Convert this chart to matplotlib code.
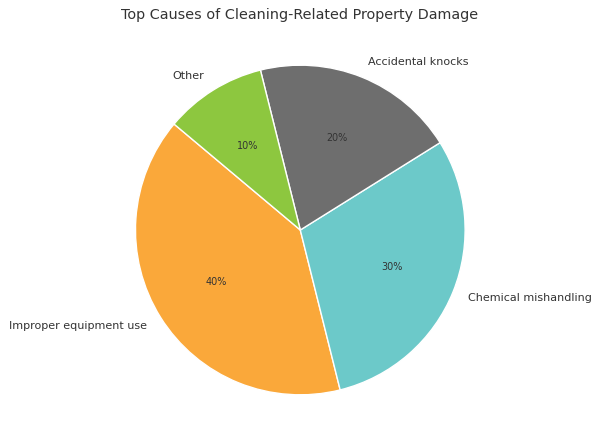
import matplotlib
matplotlib.use("Agg")
import matplotlib.pyplot as plt

# chart data
causes = ["Improper equipment use", "Chemical mishandling", "Accidental knocks", "Other"]
shares = [40, 30, 20, 10]
colors = ["#FAA83A", "#6CC9C9", "#6E6E6E", "#8DC73F"]

fig = plt.figure(figsize=(6, 4.44), dpi=100)
ax = fig.add_axes([0.157, 0.018, 0.687, 0.928])

wedges, texts, autotexts = ax.pie(
    shares, labels=causes, colors=colors, autopct="%1.0f%%",
    startangle=140, wedgeprops={"edgecolor": "white", "linewidth": 1},
    textprops={"color": "#333333", "fontsize": 8},
)
for t in autotexts:
    t.set_fontsize(6.9)
ax.set_aspect("equal")

fig.suptitle("Top Causes of Cleaning-Related Property Damage", fontsize=10.4,
             color="#333333", y=0.982)

fig.savefig("out.png", dpi=100)
